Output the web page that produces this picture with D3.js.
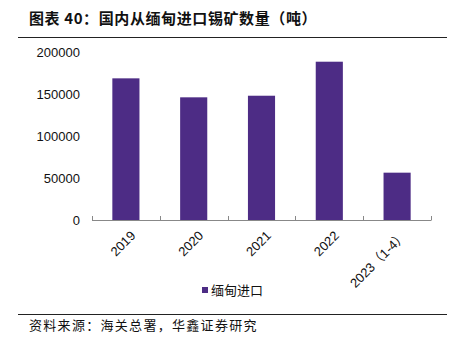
<!DOCTYPE html>
<html><head><meta charset="utf-8">
<script src="https://cdn.jsdelivr.net/npm/d3@7"></script>
<style>body{margin:0;background:#fff}svg{display:block}</style>
</head><body>
<svg id="c" width="459" height="346"></svg>
<script>
const categories = ["2019","2020","2021","2022","2023（1-4）"];
const values = [169000, 146400, 148300, 188800, 56700];
const yTicks = [0, 50000, 100000, 150000, 200000];
const seriesName = "缅甸进口";
const titleText = "图表 40：国内从缅甸进口锡矿数量（吨）";
const sourceText = "资料来源：海关总署，华鑫证券研究";

const svg = d3.select("#c");
const barColor = "#4d2c85";
const x = d3.scaleBand().domain(categories).range([92, 431]).paddingInner(0.6).paddingOuter(0.3);
const y = d3.scaleLinear().domain([0, 200000]).range([220.3, 52.3]);

// title
svg.append("text").attr("x", 29).attr("y", 24)
  .style("font-family", "'Noto Sans CJK SC'").style("font-weight", "bold").style("font-size", "15px")
  .style("letter-spacing", "0.6px")
  .attr("fill", "#111").text(titleText);
svg.append("line").attr("x1", 18).attr("x2", 447).attr("y1", 37.5).attr("y2", 37.5)
  .attr("stroke", "#222").attr("stroke-width", 1);

// y labels
svg.append("g").selectAll("text").data(yTicks).join("text")
  .attr("x", 80).attr("y", d => y(d)).attr("dy", "0.36em").attr("text-anchor", "end")
  .style("font-family", "Arial, 'Liberation Sans'").style("font-size", "13px").attr("fill", "#111")
  .text(d => d);

// bars
svg.append("g").selectAll("rect").data(values).join("rect")
  .attr("x", (d, i) => x(categories[i])).attr("width", x.bandwidth())
  .attr("y", d => y(d)).attr("height", d => y(0) - y(d)).attr("fill", barColor);

// x axis
svg.append("line").attr("x1", 92).attr("x2", 431).attr("y1", 220.5).attr("y2", 220.5)
  .attr("stroke", "#888").attr("stroke-width", 1);
const step = (431 - 92) / categories.length;
const bounds = d3.range(categories.length + 1).map(i => 92 + i * step);
svg.append("g").selectAll("line").data(bounds).join("line")
  .attr("x1", d => Math.round(d) + 0.5).attr("x2", d => Math.round(d) + 0.5)
  .attr("y1", 220.5).attr("y2", 216).attr("stroke", "#888");

// x labels
svg.append("g").selectAll("text").data(categories).join("text")
  .attr("transform", d => `translate(${x(d) + x.bandwidth() / 2 + 4},${230}) rotate(-45)`)
  .attr("text-anchor", "end").attr("dy", "0.7em")
  .style("font-family", "Arial, 'Liberation Sans', 'Noto Sans CJK SC'").style("font-size", "13px").attr("fill", "#111")
  .text(d => d);

// legend
svg.append("rect").attr("x", 202).attr("y", 287).attr("width", 6).attr("height", 6).attr("fill", barColor);
svg.append("text").attr("x", 211).attr("y", 290).attr("dy", "0.36em")
  .style("font-family", "'Noto Sans CJK SC'").style("font-size", "13px").attr("fill", "#111").text(seriesName);

// footer
svg.append("line").attr("x1", 18).attr("x2", 447).attr("y1", 314.5).attr("y2", 314.5)
  .attr("stroke", "#222").attr("stroke-width", 1);
svg.append("text").attr("x", 29).attr("y", 330)
  .style("font-family", "'Noto Sans CJK SC'").style("font-size", "13px").style("letter-spacing", "1.3px")
  .attr("fill", "#111").text(sourceText);
</script>
</body></html>
